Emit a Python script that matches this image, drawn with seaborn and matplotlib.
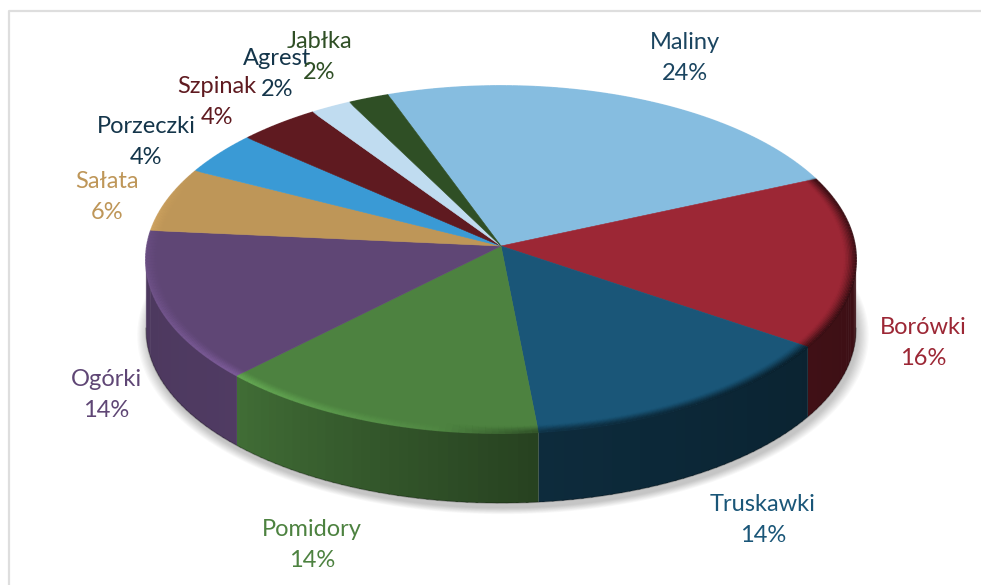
import matplotlib
matplotlib.use("Agg")
import matplotlib.pyplot as plt
import numpy as np
import seaborn as sns
from matplotlib.collections import LineCollection
from matplotlib.transforms import Transform

categories = ["Maliny", "Borówki", "Truskawki", "Pomidory", "Ogórki",
              "Sałata", "Porzeczki", "Szpinak", "Agrest", "Jabłka"]
values = [24, 16, 14, 14, 14, 6, 4, 4, 2, 2]

slice_hex = ["#86BDE0", "#9C2735", "#1A5678", "#4D8240", "#5F4675",
             "#BE9658", "#3A9AD5", "#5F1A20", "#C0DCF0", "#2F4F25"]
text_hex = ["#1B4560", "#9C2735", "#1A5678", "#4D8240", "#5F4675",
            "#BE9658", "#14354A", "#5F1A20", "#14354A", "#2F4F25"]

# label centres in pixels
label_xy = [(685, 58), (923, 343), (763, 520), (312, 545), (106, 395),
            (107, 197), (146, 142), (217, 102), (277, 74), (319, 57)]

DEPTH = 70  # height of the pie side
START = -20  # first slice edge, clockwise from the top


class Perspective(Transform):
    """Tilted unit disc to pixel coordinates"""
    input_dims = 2
    output_dims = 2
    k = 0.078

    def transform_non_affine(self, xy):
        xy = np.asarray(xy)
        den = 1 + self.k * xy[:, 1]
        return np.column_stack([501 + 354 * xy[:, 0] / den,
                                246 - 172.5 * xy[:, 1] / den])


def rim(theta, r=1.0, shift=0):
    """Pixel points on the disc for clockwise angles in degrees"""
    t = np.radians(theta)
    pts = persp.transform(np.column_stack([r * np.sin(t), r * np.cos(t)]))
    pts[:, 1] += shift
    return pts


sns.set_theme(style="white")
plt.rcParams["font.family"] = ["Lato", "DejaVu Sans"]

persp = Perspective()
palette = sns.color_palette(slice_hex)

fig = plt.figure(figsize=(9.81, 5.85), dpi=100)
ax = fig.add_axes([0, 0, 1, 1])

wedges, _ = ax.pie(values, colors=palette, startangle=90 - START, counterclock=False,
                   wedgeprops=dict(linewidth=0, zorder=5))
for w, color in zip(wedges, palette):
    w.set_transform(persp + ax.transData)
    # thin edge in the slice colour hides the seams
    w.set_edgecolor(color)
    w.set_linewidth(0.4)

ax.set_aspect("auto")
ax.set_xlim(0, 981)
ax.set_ylim(585, 0)
ax.axis("off")

# frame of the screenshot
ax.plot([9, 9, 981], [585, 11, 11], color="#DEDEDE", lw=1.6, zorder=1)

# soft shadow under the pie
all_angles = np.linspace(0, 360, 181)
for r in np.linspace(1.03, 1.0, 10):
    shadow = rim(all_angles, r, DEPTH + 5)
    ax.fill(shadow[:, 0] + 2, shadow[:, 1], color="black", alpha=0.022, lw=0, zorder=2)

edges = START + np.cumsum([0] + values) * 3.6

# side of the pie
side_t = [94, 124, 174, 225, 266]
side_f = [0.38, 0.41, 0.50, 0.84, 0.80]
for i, color in enumerate(palette):
    t1, t2 = max(edges[i], 94), min(edges[i + 1], 266)
    if t1 >= t2:
        continue
    grid = np.arange(t1, t2 + 1.5, 1.5)
    grid[-1] = t2
    for a, b in zip(grid[:-1], grid[1:]):
        f = np.interp((a + b) / 2, side_t, side_f)
        # small overlap hides the seams between strips
        upper = rim(np.array([a, min(b + 0.4, t2)]))
        lower = upper[::-1] + [0, DEPTH]
        poly = np.vstack([upper, lower])
        ax.fill(poly[:, 0], poly[:, 1], color=np.array(color) * f, lw=0, zorder=3)

bottom = rim(np.linspace(94, 266, 120), 1.0, DEPTH)
ax.plot(bottom[:, 0], bottom[:, 1], color="black", alpha=0.25, lw=1.0, zorder=4)

# bevel on the edge of the top face
bevel_t = [66, 66.5, 100, 130, 172, 190, 225, 250, 270, 295]
bevel_f = [1.0, 0.35, 0.28, 0.34, 0.55, 1.05, 1.32, 1.2, 1.12, 1.0]
for j, r in enumerate(np.linspace(1.0, 0.968, 9)):
    alpha = 0.85 * (1 - j / 9) ** 1.6
    for i, color in enumerate(palette):
        grid = np.arange(edges[i], edges[i + 1] + 1, 1.0)
        grid[-1] = edges[i + 1]
        pts = rim(grid, r)
        segs = np.stack([pts[:-1], pts[1:]], axis=1)
        f = np.interp((grid[:-1] + grid[1:]) / 2, bevel_t, bevel_f)
        rgb = np.clip(np.outer(f, color), 0, 1)
        ax.add_collection(LineCollection(segs, colors=rgb, linewidths=1.3, alpha=alpha,
                                         capstyle="butt", zorder=6), autolim=False)

# labels
for name, value, color, (x, y) in zip(categories, values, text_hex, label_xy):
    ax.text(x, y, f"{name}\n{value}%", color=color, fontsize=17, ha="center",
            va="center", linespacing=1.62, zorder=8)

fig.savefig("out.png", dpi=100, facecolor="white")
